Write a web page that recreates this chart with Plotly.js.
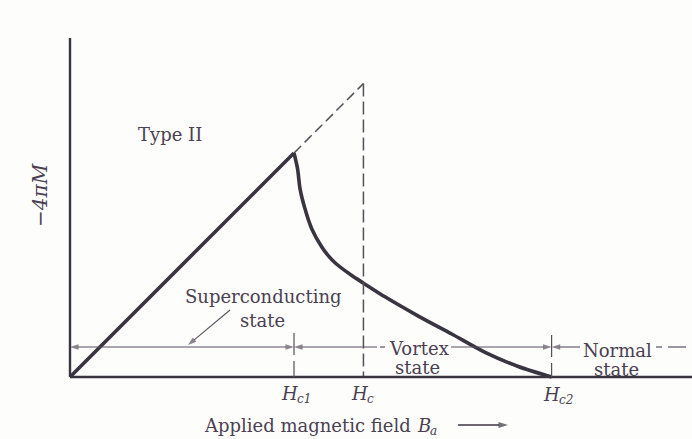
<!DOCTYPE html>
<html>
<head>
<meta charset="utf-8">
<script src="https://cdn.plot.ly/plotly-3.0.1.min.js"></script>
<style>
  html, body { margin: 0; padding: 0; background: #fdfdfb; }
  #chart { width: 692px; height: 439px; }
</style>
</head>
<body>
<div id="chart"></div>
<script>
// Critical fields (in units of Hc1)
const Hc1 = 1.0;
const Hc = 1.31;
const Hc2 = 2.15;

// Meissner (superconducting) branch: -4πM = B_a
const meissnerH = [0, Hc1];
const meissnerM = [0, Hc1];

// Vortex-state branch from Hc1 down to zero at Hc2
const vortexH = [1.00, 1.016, 1.027, 1.049, 1.079, 1.124, 1.150, 1.183, 1.258, 1.309, 1.406, 1.555, 1.704, 1.853, 2.001, 2.15];
const vortexM = [1.00, 0.929, 0.840, 0.751, 0.662, 0.580, 0.545, 0.510, 0.453, 0.420, 0.358, 0.272, 0.192, 0.110, 0.047, 0];

// Type I continuation (dashed) up to Hc
const extH = [Hc1, Hc];
const extM = [Hc1, Hc];

const ink = '#3a3340';
const textInk = '#4a4052';
const thin = '#5a5060';
const serif = 'DejaVu Serif, serif';

// pixel helpers: 224 px per unit, origin at (70, 377)
const S = 224, OX = 70, OY = 377;
const px = p => (p - OX) / S;
const py = p => (OY - p) / S;
const xr = [-OX / S, (692 - OX) / S];
const yr = [(OY - 439) / S, OY / S];
const yTop = py(38);        // top of the vertical axis
const yState = py(347);     // level of the state-range arrows

const traces = [
  { x: meissnerH, y: meissnerM, mode: 'lines', line: { color: ink, width: 3.6 } },
  { x: vortexH, y: vortexM, mode: 'lines', line: { color: ink, width: 3.6, shape: 'spline', smoothing: 0.8 } },
  { x: extH, y: extM, mode: 'lines', line: { color: '#55505a', width: 1.5, dash: '10px,5px' } },
  { x: [Hc, Hc], y: [Hc, 0], mode: 'lines', line: { color: '#55505a', width: 1.5, dash: '13px,5px' } }
];

// arrows: line from tail to head with an arrowhead marker at the head
function arrowTrace(tail, head, color, width, size) {
  return {
    x: [tail[0], head[0]], y: [tail[1], head[1]],
    mode: 'lines+markers',
    line: { color: color, width: width },
    marker: { symbol: 'arrow', angleref: 'previous', size: [0, size], color: color, line: { width: 0 } }
  };
}

const rangeArrows = [
  // superconducting range: origin to Hc1 (both ends)
  [[0.5, yState], [0, yState]],
  [[0.5, yState], [Hc1, yState]],
  // vortex range: Hc1 to Hc2
  [[px(377), yState], [Hc1, yState]],
  [[px(451), yState], [Hc2, yState]],
  // normal range beyond Hc2
  [[px(580), yState], [Hc2, yState]],
  // pointer from the label to the range line
  [[px(230), py(310)], [px(188), py(345)]]
];
rangeArrows.forEach(a => traces.push(arrowTrace(a[0], a[1], thin, 1.1, 9)));
// direction arrow after the x-axis label
traces.push(arrowTrace([px(458), py(425)], [px(508), py(425)], ink, 1.6, 10));

traces.forEach(t => { t.hoverinfo = 'skip'; });

const shapes = [
  // axes
  { type: 'line', x0: 0, y0: 0, x1: 0, y1: yTop, line: { color: ink, width: 2.4 } },
  { type: 'line', x0: 0, y0: 0, x1: xr[1], y1: 0, line: { color: ink, width: 2.4 } },
  // boundary ticks at Hc1 and Hc2
  { type: 'line', x0: Hc1, y0: py(333), x1: Hc1, y1: 0, line: { color: '#55505a', width: 1.2, dash: '22px,6px' } },
  { type: 'line', x0: Hc2, y0: py(335), x1: Hc2, y1: 0, line: { color: '#55505a', width: 1.2, dash: '22px,6px' } },
  // short dashes beside the state labels
  { type: 'line', x0: px(380), y0: yState, x1: px(385), y1: yState, line: { color: thin, width: 1.2 } },
  { type: 'line', x0: px(656), y0: yState, x1: px(662), y1: yState, line: { color: thin, width: 1.2 } },
  { type: 'line', x0: px(668), y0: yState, x1: px(686), y1: yState, line: { color: thin, width: 1.2 } }
];

function label(x, y, text, opts) {
  const o = opts || {};
  return {
    x: x, y: y, xref: 'x', yref: 'y', text: text, showarrow: false,
    xanchor: o.xanchor || 'center', textangle: o.textangle || 0,
    xshift: o.xshift || 0, borderpad: 0, borderwidth: 0,
    font: { family: serif, size: o.size || 18, color: textInk, style: o.italic ? 'italic' : 'normal' }
  };
}

// italic field symbol with italic subscript, e.g. H_c1
function fieldLabel(xJoin, yMain, main, sub) {
  return [
    label(px(xJoin), py(yMain), main, { xanchor: 'right', italic: true, size: 18 }),
    label(px(xJoin), py(yMain + 6), sub, { xanchor: 'left', italic: true, size: 12, xshift: -1 })
  ];
}

const annotations = [
  label(px(170), py(134), 'Type II'),
  label(px(40), py(195), '−4πM', { textangle: -90, italic: true, size: 20 }),
  label(px(263), py(296), 'Superconducting'),
  label(px(262), py(320), 'state'),
  label(px(419), py(348), 'Vortex'),
  label(px(417), py(367), 'state'),
  label(px(617), py(350), 'Normal'),
  label(px(616), py(369), 'state'),
  ...fieldLabel(298, 393, 'H', 'c1'),
  ...fieldLabel(368, 393, 'H', 'c'),
  ...fieldLabel(560, 394, 'H', 'c2'),
  label(px(411), py(425), 'Applied magnetic field', { xanchor: 'right', size: 18 }),
  ...fieldLabel(431, 425, 'B', 'a')
];

const layout = {
  width: 692, height: 439,
  margin: { l: 0, r: 0, t: 0, b: 0 },
  paper_bgcolor: '#fdfdfb', plot_bgcolor: '#fdfdfb',
  showlegend: false,
  xaxis: { range: xr, visible: false, fixedrange: true },
  yaxis: { range: yr, visible: false, fixedrange: true },
  shapes: shapes,
  annotations: annotations
};

Plotly.newPlot('chart', traces, layout, { staticPlot: true, displayModeBar: false });
</script>
</body>
</html>
